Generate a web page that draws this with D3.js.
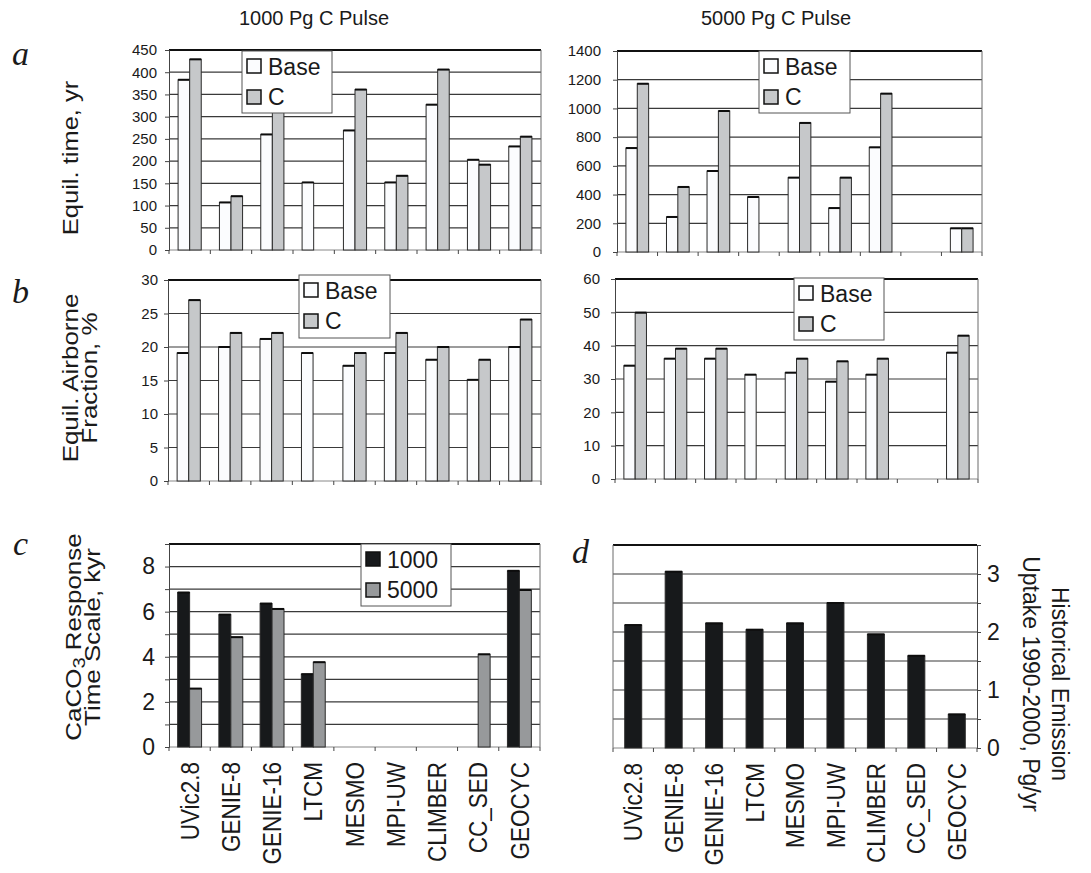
<!DOCTYPE html>
<html>
<head>
<meta charset="utf-8">
<script src="https://cdn.jsdelivr.net/npm/d3@7"></script>
<style>
  html, body { margin: 0; padding: 0; background: #fff; }
  svg { display: block; }
  text { font-family: "Liberation Sans", Arial, Helvetica, sans-serif; fill: #1a1a1a; }
</style>
</head>
<body>
<svg id="chart" width="1091" height="873"></svg>
<script>
// ---------------- DATA ----------------
const categories = ["UVic2.8", "GENIE-8", "GENIE-16", "LTCM", "MESMO", "MPI-UW", "CLIMBER", "CC_SED", "GEOCYC"];

// a: equilibration time, yr
const eqTime1000Base = [383, 107, 260, 152, 269, 152, 327, 203, 233];
const eqTime1000C    = [429, 121, 335, null, 361, 167, 406, 192, 255];
const eqTime5000Base = [724, 244, 564, 383, 518, 306, 729, null, 165];
const eqTime5000C    = [1172, 453, 982, null, 899, 518, 1103, null, 165];

// b: equilibrium airborne fraction, %
const af1000Base = [19.1, 20.0, 21.2, 19.1, 17.2, 19.1, 18.1, 15.1, 20.0];
const af1000C    = [27.0, 22.1, 22.1, null, 19.1, 22.1, 20.0, 18.1, 24.1];
const af5000Base = [34.0, 36.1, 36.1, 31.3, 31.9, 29.2, 31.3, null, 37.9];
const af5000C    = [49.9, 39.1, 39.1, null, 36.1, 35.3, 36.1, null, 43.0];

// c: CaCO3 response time scale, kyr
const caco3Resp1000 = [6.85, 5.87, 6.36, 3.23, null, null, null, null, 7.81];
const caco3Resp5000 = [2.59, 4.87, 6.12, 3.76, null, null, null, 4.11, 6.96];

// d: historical emission uptake 1990-2000, Pg/yr
const uptake1990_2000 = [2.12, 3.04, 2.15, 2.04, 2.15, 2.50, 1.96, 1.59, 0.58];

// tick labels
const ticksA1000 = [0, 50, 100, 150, 200, 250, 300, 350, 400, 450];
const ticksA5000 = [0, 200, 400, 600, 800, 1000, 1200, 1400];
const ticksB1000 = [0, 5, 10, 15, 20, 25, 30];
const ticksB5000 = [0, 10, 20, 30, 40, 50, 60];
const gridC = [0, 1, 2, 3, 4, 5, 6, 7, 8, 9];
const ticksC = [0, 2, 4, 6, 8];
const gridD = [0, 0.5, 1, 1.5, 2, 2.5, 3, 3.5];
const ticksD = [0, 1, 2, 3];

// ---------------- STYLE ----------------
const COL_BASE = "#fbfcfe", COL_C = "#c6c8ca";
const COL_1000 = "#17191b", COL_5000 = "#97999b";

const svg = d3.select("#chart");

function panel(cfg) {
  const g = svg.append("g");
  const x = d3.scaleBand().domain(categories).range([cfg.x0, cfg.x1]).paddingInner(0).paddingOuter(0);
  const y = d3.scaleLinear().domain([0, cfg.max]).range([cfg.y1, cfg.y0]);
  const bw = x.bandwidth();
  const groupW = bw * cfg.frac;
  const xs = d3.scaleBand().domain(cfg.series.map(s => s.name)).range([0, groupW]);

  // grid lines
  g.selectAll(".grid").data(cfg.grid.filter(v => v > 0 && v < cfg.max)).enter()
    .append("line")
    .attr("x1", cfg.x0).attr("x2", cfg.x1)
    .attr("y1", d => y(d)).attr("y2", d => y(d))
    .attr("stroke", "#3a3a3a").attr("stroke-width", 1.2);

  // frame
  g.append("line").attr("x1", cfg.x0).attr("x2", cfg.x1).attr("y1", y(cfg.max)).attr("y2", y(cfg.max))
    .attr("stroke", "#111").attr("stroke-width", 2);
  const farX = cfg.side === "right" ? cfg.x0 : cfg.x1;
  const axX = cfg.side === "right" ? cfg.x1 : cfg.x0;
  g.append("line").attr("x1", farX).attr("x2", farX).attr("y1", cfg.y0).attr("y2", cfg.y1)
    .attr("stroke", "#6a6a6a").attr("stroke-width", 1);
  g.append("line").attr("x1", cfg.x0).attr("x2", cfg.x1).attr("y1", cfg.y1).attr("y2", cfg.y1)
    .attr("stroke", "#888").attr("stroke-width", 1);

  // bars
  cfg.series.forEach(s => {
    const data = categories.map((c, i) => ({ c, v: s.values[i] })).filter(d => d.v != null);
    const bx = d => x(d.c) + (bw - groupW) / 2 + xs(s.name);
    g.selectAll(null).data(data).enter().append("rect")
      .attr("x", bx).attr("y", d => y(d.v))
      .attr("width", xs.bandwidth()).attr("height", d => y(0) - y(d.v))
      .attr("fill", s.color).attr("stroke", "#2a2a2a").attr("stroke-width", 1);
    g.selectAll(null).data(data).enter().append("line")
      .attr("x1", bx).attr("x2", d => bx(d) + xs.bandwidth())
      .attr("y1", d => y(d.v)).attr("y2", d => y(d.v))
      .attr("stroke", "#0d0d0d").attr("stroke-width", 2);
  });

  // y axis
  const axis = (cfg.side === "right" ? d3.axisRight(y) : d3.axisLeft(y))
    .tickValues(cfg.grid).tickSize(4).tickPadding(cfg.pad).tickFormat(d => cfg.ticks.includes(d) ? d3.format("d")(d) : "");
  const ag = g.append("g").attr("transform", `translate(${axX},0)`).call(axis);
  ag.select(".domain").attr("stroke", "#444").attr("stroke-width", 1);
  ag.selectAll(".tick line").attr("stroke", "#444");
  ag.selectAll("text").attr("font-size", cfg.fs).attr("fill", "#1a1a1a")
    .attr("font-family", '"Liberation Sans", Arial, sans-serif');

  // category boundary ticks
  const bounds = categories.map(c => x(c)).concat([cfg.x1]);
  g.selectAll(null).data(bounds).enter().append("line")
    .attr("x1", d => d).attr("x2", d => d).attr("y1", cfg.y1).attr("y2", cfg.y1 + 4)
    .attr("stroke", "#444").attr("stroke-width", 1);

  // category labels
  if (cfg.labels) {
    g.selectAll(null).data(categories).enter().append("text")
      .attr("transform", d => `translate(${x(d) + bw / 2},${cfg.y1 + 15}) rotate(-90) scale(1,1.16)`)
      .attr("text-anchor", "end").attr("dy", "0.35em")
      .attr("font-size", 22.5).text(d => d);
  }
  return { x, y };
}

function legend(x0, y0, w, h, items) {
  const g = svg.append("g");
  g.append("rect").attr("x", x0).attr("y", y0).attr("width", w).attr("height", h)
    .attr("fill", "#fff").attr("stroke", "#555").attr("stroke-width", 1);
  items.forEach((it, i) => {
    g.append("rect").attr("x", x0 + 5).attr("y", y0 + 8 + i * 31).attr("width", 14).attr("height", 14)
      .attr("fill", it.color).attr("stroke", "#111").attr("stroke-width", 1.5);
    g.append("text").attr("x", x0 + 26).attr("y", y0 + 24 + i * 30).attr("font-size", 23).text(it.name);
  });
}

// ---------------- PANELS ----------------
panel({ x0: 169, x1: 541, y0: 50, y1: 250, max: 450, grid: ticksA1000, ticks: ticksA1000, fs: 15, pad: 8, frac: 0.56,
  series: [{ name: "Base", values: eqTime1000Base, color: COL_BASE }, { name: "C", values: eqTime1000C, color: COL_C }] });
panel({ x0: 617, x1: 982, y0: 51, y1: 252, max: 1400, grid: ticksA5000, ticks: ticksA5000, fs: 15, pad: 12, frac: 0.56,
  series: [{ name: "Base", values: eqTime5000Base, color: COL_BASE }, { name: "C", values: eqTime5000C, color: COL_C }] });
panel({ x0: 168, x1: 541, y0: 280, y1: 481, max: 30, grid: ticksB1000, ticks: ticksB1000, fs: 15, pad: 6, frac: 0.56,
  series: [{ name: "Base", values: af1000Base, color: COL_BASE }, { name: "C", values: af1000C, color: COL_C }] });
panel({ x0: 615, x1: 978, y0: 279, y1: 479, max: 60, grid: ticksB5000, ticks: ticksB5000, fs: 15, pad: 11, frac: 0.56,
  series: [{ name: "Base", values: af5000Base, color: COL_BASE }, { name: "C", values: af5000C, color: COL_C }] });
panel({ x0: 169, x1: 540, y0: 544, y1: 747, max: 9, grid: gridC, ticks: ticksC, fs: 23, pad: 10, frac: 0.58, labels: true,
  series: [{ name: "1000", values: caco3Resp1000, color: COL_1000 }, { name: "5000", values: caco3Resp5000, color: COL_5000 }] });
panel({ x0: 613, x1: 977, y0: 545, y1: 748, max: 3.5, grid: gridD, ticks: ticksD, fs: 23, pad: 6, frac: 0.42, labels: true, side: "right",
  series: [{ name: "uptake", values: uptake1990_2000, color: COL_1000 }] });

legend(242, 51, 90, 62, [{ name: "Base", color: COL_BASE }, { name: "C", color: COL_C }]);
legend(759, 51, 91, 62, [{ name: "Base", color: COL_BASE }, { name: "C", color: COL_C }]);
legend(299, 275, 91, 63, [{ name: "Base", color: COL_BASE }, { name: "C", color: COL_C }]);
legend(794, 278, 90, 62, [{ name: "Base", color: COL_BASE }, { name: "C", color: COL_C }]);
legend(361, 544, 90, 62, [{ name: "1000", color: COL_1000 }, { name: "5000", color: COL_5000 }]);

// ---------------- TEXT ----------------
svg.append("text").attr("x", 314).attr("y", 25).attr("text-anchor", "middle").attr("font-size", 20).text("1000 Pg C Pulse");
svg.append("text").attr("x", 776).attr("y", 25).attr("text-anchor", "middle").attr("font-size", 20).text("5000 Pg C Pulse");

const letter = (t, x, y) => svg.append("text").attr("x", x).attr("y", y)
  .style("font-family", '"Liberation Serif", "Times New Roman", serif')
  .attr("font-style", "italic").attr("font-size", 34).text(t);
letter("a", 12, 65);
letter("b", 12, 303);
letter("c", 13, 555);
letter("d", 572, 563);

function vlabel(lines, x, y, rot, fs, gap, stretch) {
  const t = svg.append("text").attr("transform", `translate(${x},${y}) rotate(${rot}) scale(${stretch},1)`)
    .attr("text-anchor", "middle").attr("font-size", fs);
  lines.forEach((ln, i) => {
    const ts = t.append("tspan").attr("x", 0).attr("y", i * gap);
    ln.forEach(part => {
      const p = ts.append("tspan").text(part.t);
      if (part.sub) p.attr("dy", 4).attr("font-size", fs * 0.78);
      if (part.after) p.attr("dy", -4);
    });
  });
}
vlabel([[{ t: "Equil. time, yr" }]], 78, 158, -90, 22, 0, 1.16);
vlabel([[{ t: "Equil. Airborne" }], [{ t: "Fraction, %" }]], 78, 378, -90, 22, 19, 1.18);
vlabel([[{ t: "CaCO" }, { t: "3", sub: true }, { t: " Response", after: true }], [{ t: "Time Scale, kyr" }]], 81, 637, -90, 22, 19, 1.18);
vlabel([[{ t: "Historical Emission" }], [{ t: "Uptake 1990-2000, Pg/yr" }]], 1052, 684, 90, 23, 29, 1);
</script>
</body>
</html>
